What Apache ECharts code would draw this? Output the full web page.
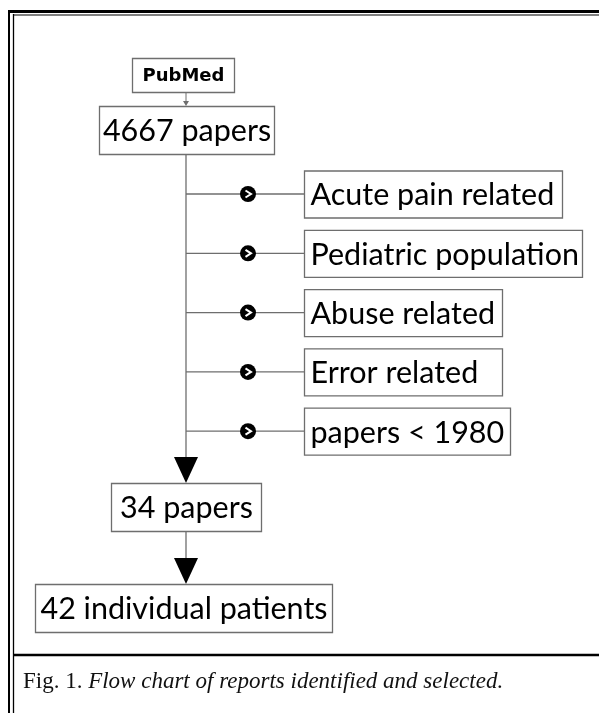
<!DOCTYPE html>
<html>
<head>
<meta charset="utf-8">
<script src="https://cdn.jsdelivr.net/npm/echarts@6/dist/echarts.min.js"></script>
<style>
  html, body { margin: 0; padding: 0; background: #fff; }
  #chart { width: 599px; height: 713px; }
</style>
</head>
<body>
<div id="chart"></div>
<script>
// 流程图的文字内容
const sourceLabels = ['PubMed'];
const stageLabels = ['4667 papers', '34 papers', '42 individual patients'];
const exclusionLabels = ['Acute pain related', 'Pediatric population', 'Abuse related', 'Error related', 'papers < 1980'];
const captionParts = ['Fig. 1.', 'Flow chart of reports identified and selected.'];

// 版面位置 (坐标轴单位 = 像素)
const trunkX = 186;
const dotX = 248;
const sourceBox = { x: 132, y: 58, w: 102, h: 34 };
const stageBoxes = [
    { x: 99, y: 106, w: 175, h: 48 },
    { x: 111, y: 483, w: 150, h: 48 },
    { x: 35, y: 584, w: 297, h: 48 }
];
const exclusionX = 304;
const exclusionFirstY = 194;
const exclusionGap = 59.3;
const exclusionH = 47;
const exclusionW = [258, 278, 198, 198, 206];

const lineColor = '#6e6e6e';
const boxFont = 'Lato, "Open Sans", sans-serif';
const boxFontSize = 30.5;

function boxShape(api, b) {
    const p0 = api.coord([b.x, b.y]);
    const p1 = api.coord([b.x + b.w, b.y + b.h]);
    return { x: p0[0] + 0.5, y: p0[1] + 0.5, width: p1[0] - p0[0], height: p1[1] - p0[1] };
}

// PubMed 和主要阶段的方框
function renderMain(params, api) {
    const i = params.dataIndex;
    const isSource = params.seriesName === 'source';
    const b = isSource ? sourceBox : stageBoxes[i];
    const r = boxShape(api, b);
    return {
        type: 'group',
        children: [
            { type: 'rect', shape: r, style: { fill: '#fff', stroke: lineColor, lineWidth: 1.3 } },
            {
                type: 'text',
                style: {
                    x: r.x + r.width / 2, y: r.y + r.height / 2 + 1,
                    text: isSource ? sourceLabels[i] : stageLabels[i],
                    align: 'center', verticalAlign: 'middle',
                    font: isSource ? 'bold 18px "DejaVu Sans"' : boxFontSize + 'px ' + boxFont,
                    fill: '#000'
                }
            }
        ]
    };
}

// 排除条件：分支线、圆点和方框
function renderExclusion(params, api) {
    const i = params.dataIndex;
    const p = api.coord([api.value(0), api.value(1)]);
    const t = api.coord([trunkX, api.value(1)]);
    const d = api.coord([dotX, api.value(1)]);
    const r = boxShape(api, { x: exclusionX, y: api.value(1) - exclusionH / 2, w: exclusionW[i], h: exclusionH });
    return {
        type: 'group',
        children: [
            { type: 'line', shape: { x1: t[0], y1: p[1], x2: p[0], y2: p[1] }, style: { stroke: lineColor, lineWidth: 1.3 } },
            { type: 'circle', shape: { cx: d[0], cy: d[1], r: 8 }, style: { fill: '#000' } },
            {
                type: 'polyline',
                shape: { points: [[d[0] - 2.5, d[1] - 3.5], [d[0] + 3, d[1]], [d[0] - 2.5, d[1] + 3.5]] },
                style: { stroke: '#fff', lineWidth: 2, fill: null }
            },
            { type: 'rect', shape: r, style: { fill: '#fff', stroke: lineColor, lineWidth: 1.3 } },
            {
                type: 'text',
                style: {
                    x: r.x + 6, y: r.y + r.height / 2 + 1,
                    text: exclusionLabels[i],
                    align: 'left', verticalAlign: 'middle',
                    font: boxFontSize + 'px ' + boxFont,
                    fill: '#000'
                }
            }
        ]
    };
}

// 主干线和箭头
function renderFlow(params, api) {
    const src = sourceBox, s0 = stageBoxes[0], s1 = stageBoxes[1], s2 = stageBoxes[2];
    const a = api.coord([trunkX, src.y + src.h]);
    const b = api.coord([trunkX, s0.y]);
    const c = api.coord([trunkX, s0.y + s0.h]);
    const e = api.coord([trunkX, s1.y]);
    const f = api.coord([trunkX, s1.y + s1.h]);
    const g = api.coord([trunkX, s2.y]);
    const head = 26, half = 12;
    return {
        type: 'group',
        children: [
            { type: 'line', shape: { x1: a[0], y1: a[1], x2: b[0], y2: b[1] - 2 }, style: { stroke: lineColor, lineWidth: 1 } },
            { type: 'polygon', shape: { points: [[b[0] - 3, b[1] - 5], [b[0] + 3, b[1] - 5], [b[0], b[1]]] }, style: { fill: lineColor } },
            { type: 'line', shape: { x1: c[0], y1: c[1], x2: e[0], y2: e[1] - head }, style: { stroke: lineColor, lineWidth: 1.3 } },
            { type: 'polygon', shape: { points: [[e[0] - half, e[1] - head], [e[0] + half, e[1] - head], [e[0], e[1]]] }, style: { fill: '#000' } },
            { type: 'line', shape: { x1: f[0], y1: f[1], x2: g[0], y2: g[1] - head }, style: { stroke: lineColor, lineWidth: 1.3 } },
            { type: 'polygon', shape: { points: [[g[0] - half, g[1] - head], [g[0] + half, g[1] - head], [g[0], g[1]]] }, style: { fill: '#000' } }
        ]
    };
}

const chart = echarts.init(document.getElementById('chart'));
chart.setOption({
    animation: false,
    grid: { left: 0, right: 0, top: 0, bottom: 0 },
    xAxis: { type: 'value', min: 0, max: 599, show: false },
    yAxis: { type: 'value', min: 0, max: 713, inverse: true, show: false },
    graphic: [
        // 外框双线
        { type: 'line', shape: { x1: 8, y1: 11.5, x2: 599, y2: 11.5 }, style: { stroke: '#000', lineWidth: 3 } },
        { type: 'line', shape: { x1: 13, y1: 15, x2: 599, y2: 15 }, style: { stroke: '#555', lineWidth: 1.3 } },
        { type: 'line', shape: { x1: 9, y1: 10, x2: 9, y2: 713 }, style: { stroke: '#000', lineWidth: 2 } },
        { type: 'line', shape: { x1: 13.5, y1: 14, x2: 13.5, y2: 713 }, style: { stroke: '#000', lineWidth: 1.3 } },
        { type: 'line', shape: { x1: 13, y1: 655, x2: 599, y2: 655 }, style: { stroke: '#000', lineWidth: 2.5 } },
        {
            type: 'text', left: 23, top: 670,
            style: {
                text: '{r|' + captionParts[0] + ' }{i|' + captionParts[1] + '}',
                rich: {
                    r: { fontFamily: '"Liberation Serif", serif', fontSize: 23, fill: '#111' },
                    i: { fontFamily: '"Liberation Serif", serif', fontSize: 23, fontStyle: 'italic', fill: '#111' }
                }
            }
        }
    ],
    series: [
        {
            name: 'flow', type: 'custom', renderItem: renderFlow, clip: false,
            data: [[trunkX, 0]], silent: true
        },
        {
            name: 'exclusion', type: 'custom', renderItem: renderExclusion, clip: false, silent: true,
            data: exclusionLabels.map((name, i) => ({ name: name, value: [exclusionX, exclusionFirstY + i * exclusionGap] }))
        },
        {
            name: 'source', type: 'custom', renderItem: renderMain, clip: false, silent: true,
            data: sourceLabels.map((name) => ({ name: name, value: [sourceBox.x, sourceBox.y] }))
        },
        {
            name: 'stage', type: 'custom', renderItem: renderMain, clip: false, silent: true,
            data: stageLabels.map((name, i) => ({ name: name, value: [stageBoxes[i].x, stageBoxes[i].y] }))
        }
    ]
});
</script>
</body>
</html>
